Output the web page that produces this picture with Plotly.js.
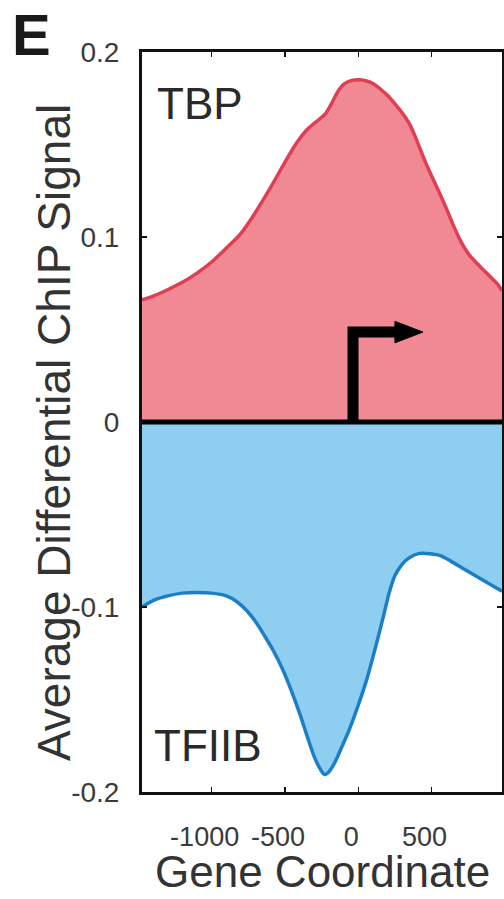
<!DOCTYPE html>
<html>
<head>
<meta charset="utf-8">
<script src="https://cdn.plot.ly/plotly-3.0.1.min.js"></script>
<style>html,body{margin:0;padding:0;background:#fff;}#chart{width:504px;height:899px;}</style>
</head>
<body>
<div id="chart"></div>
<script>
// ---- data ----
var tbpX = [-1475,-1400,-1300,-1200,-1100,-1000,-900,-800,-700,-600,-500,-420,-350,-300,-260,-220,-180,-140,-100,-50,0,50,100,150,200,250,300,350,400,450,500,550,600,650,700,750,800,850,900,950,980];
var tbpY = [0.066,0.068,0.0715,0.0755,0.0805,0.0865,0.094,0.102,0.1135,0.1265,0.1405,0.151,0.158,0.1615,0.164,0.167,0.1725,0.1785,0.1825,0.1845,0.185,0.1845,0.183,0.180,0.1765,0.172,0.167,0.161,0.152,0.142,0.133,0.1245,0.1155,0.106,0.0975,0.091,0.0865,0.0825,0.0785,0.0745,0.071];

var tfiibX = [-1475,-1400,-1300,-1200,-1100,-1000,-900,-830,-760,-700,-640,-580,-520,-460,-400,-350,-300,-260,-230,-200,-160,-120,-60,0,60,120,170,210,250,300,350,420,490,560,630,700,770,840,910,980];
var tfiibY = [-0.100,-0.0965,-0.094,-0.0925,-0.0921,-0.0925,-0.094,-0.097,-0.102,-0.108,-0.1155,-0.1235,-0.133,-0.1445,-0.1575,-0.1695,-0.181,-0.1875,-0.1905,-0.189,-0.184,-0.177,-0.166,-0.153,-0.1385,-0.121,-0.1055,-0.0925,-0.083,-0.0768,-0.0732,-0.071,-0.0712,-0.0722,-0.0752,-0.0785,-0.0818,-0.085,-0.0882,-0.0915];

var seriesNames = ["TBP", "TFIIB"];
var xTickVals = [-1000, -500, 0, 500];
var xTickText = ["-1000", "-500", "0", "500"];
var yTickVals = [-0.2, -0.1, 0, 0.1, 0.2];
var yTickText = ["-0.2", "-0.1", "0", "0.1", "0.2"];
var xRange = [-1475, 980];
var yRange = [-0.2, 0.2];

// transcription start arrow (decoration)
var arrowX = -36, arrowY = 0.0486, arrowBarEnd = 255, arrowHeadBase = 250, arrowHeadTip = 441, arrowHeadHalf = 0.0058;

var FONT = "Liberation Sans, Arial, sans-serif";

var traces = [
  {x: tbpX, y: tbpY, type: "scatter", mode: "lines", fill: "tozeroy",
   fillcolor: "rgb(241,137,148)", line: {color: "rgb(224,62,82)", width: 3.5, shape: "spline", smoothing: 0.8}, name: seriesNames[0], hoverinfo: "skip"},
  {x: tfiibX, y: tfiibY, type: "scatter", mode: "lines", fill: "tozeroy",
   fillcolor: "rgb(142,206,241)", line: {color: "rgb(28,126,198)", width: 3.5, shape: "spline", smoothing: 0.8}, name: seriesNames[1], hoverinfo: "skip"}
];

var layout = {
  width: 504, height: 899,
  margin: {l: 142, r: 2, t: 52, b: 107, pad: 0},
  paper_bgcolor: "#fff", plot_bgcolor: "#fff",
  showlegend: false,
  font: {family: FONT, color: "#333"},
  xaxis: {
    range: xRange, tickvals: xTickVals, ticktext: xTickText,
    showgrid: false, zeroline: false,
    showline: true, linecolor: "#111", linewidth: 3, mirror: "ticks",
    ticks: "inside", ticklen: 5, tickwidth: 1.5, tickcolor: "#111",
    tickfont: {family: FONT, size: 27, color: "#3a3a3a"},
    ticklabelstandoff: 19, ticklabelshift: -7
  },
  yaxis: {
    range: yRange, tickvals: yTickVals, ticktext: yTickText,
    showgrid: false, zeroline: false,
    showline: true, linecolor: "#111", linewidth: 3, mirror: "ticks",
    ticks: "inside", ticklen: 5, tickwidth: 1.5, tickcolor: "#111",
    tickfont: {family: FONT, size: 28, color: "#3a3a3a"},
    ticklabelstandoff: 14
  },
  shapes: [
    {type: "line", xref: "paper", yref: "y", x0: 0, x1: 1, y0: 0, y1: 0, line: {color: "#000", width: 5}, layer: "above"},
    {type: "path", xref: "x", yref: "y", layer: "above",
     path: "M " + arrowX + " 0 L " + arrowX + " " + arrowY + " L " + arrowBarEnd + " " + arrowY,
     line: {color: "#000", width: 11}},
    {type: "path", xref: "x", yref: "y", layer: "above",
     path: "M " + arrowHeadBase + " " + (arrowY + arrowHeadHalf) + " L " + arrowHeadTip + " " + arrowY + " L " + arrowHeadBase + " " + (arrowY - arrowHeadHalf) + " Z",
     fillcolor: "#000", line: {color: "#000", width: 1}}
  ],
  annotations: [
    {text: "<b>E</b>", xref: "paper", yref: "paper", x: (31 - 142) / 360, y: (792 - 35) / 740,
     xanchor: "center", yanchor: "middle", showarrow: false, font: {family: FONT, size: 58, color: "#1a1a1a"}},
    {text: seriesNames[0], xref: "paper", yref: "paper", x: (200 - 142) / 360, y: (792 - 104) / 740,
     xanchor: "center", yanchor: "middle", showarrow: false, font: {family: FONT, size: 44, color: "#2a2a2a"}},
    {text: seriesNames[1], xref: "paper", yref: "paper", x: (208 - 142) / 360, y: (792 - 745) / 740,
     xanchor: "center", yanchor: "middle", showarrow: false, font: {family: FONT, size: 44, color: "#2a2a2a"}},
    {text: "Gene Coordinate", xref: "paper", yref: "paper", x: 0.5, y: (792 - 898) / 740,
     xanchor: "center", yanchor: "bottom", showarrow: false, font: {family: FONT, size: 44, color: "#333"}},
    {text: "Average Differential ChIP Signal", xref: "paper", yref: "paper", x: (54 - 142) / 360, y: (792 - 433) / 740,
     xanchor: "center", yanchor: "middle", textangle: -90, showarrow: false, font: {family: FONT, size: 46, color: "#333"}}
  ]
};

Plotly.newPlot("chart", traces, layout, {staticPlot: true, displayModeBar: false});
</script>
</body>
</html>
